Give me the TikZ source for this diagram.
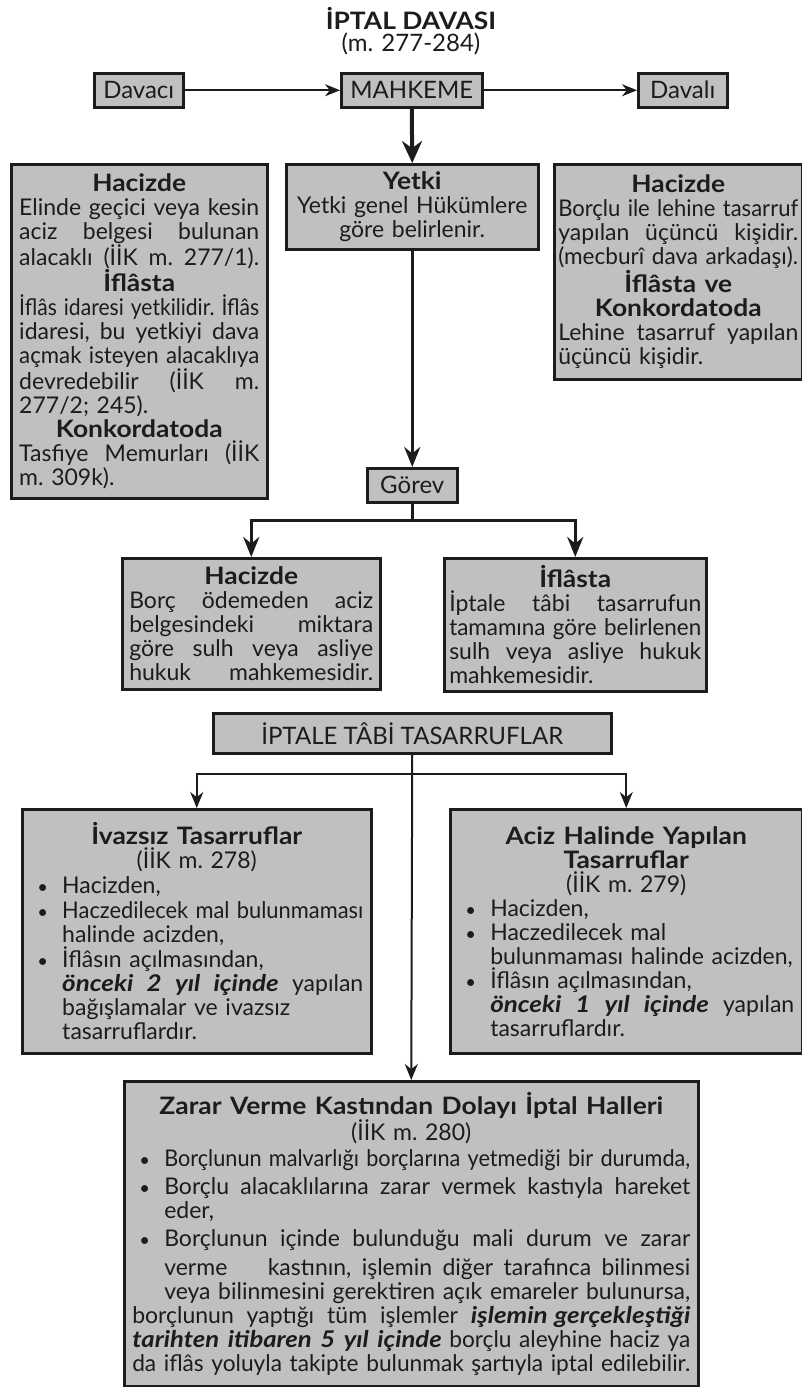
\documentclass[tikz,border=0pt]{standalone}
\usepackage{fontspec}
\usepackage{graphicx}
\setmainfont{Lato}
\usetikzlibrary{arrows.meta}

\definecolor{boxfill}{RGB}{192,192,192}
\definecolor{ink}{RGB}{28,28,28}

% line helpers: justified, ragged (shrunk only when too wide), centred, bullets
\newlength\bind \setlength\bind{32pt}
\newcommand\fitbox[2]{\sbox0{#2}\ifdim\wd0>#1\relax\resizebox{#1}{\height}{#2}\else\makebox[#1][s]{\spaceskip=\fontdimen2\font plus 1fil\relax #2}\fi}
\newcommand\fitrag[2]{\sbox0{#2}\ifdim\wd0>#1\relax\resizebox{#1}{\height}{#2}\else\usebox0\fi}
\newcommand\jl[1]{\fitbox{\hsize}{#1}}
\newcommand\rl[1]{\fitrag{\hsize}{#1}}
\newcommand\cl[1]{\makebox[\hsize]{#1}}
\newcommand\bul{\makebox[\bind][l]{\hspace{7pt}\scalebox{0.8}{\textbullet}}}
\newcommand\bjl[1]{\bul\fitbox{\dimexpr\hsize-\bind\relax}{#1}}
\newcommand\brl[1]{\bul\fitrag{\dimexpr\hsize-\bind\relax}{#1}}
\newcommand\ijl[1]{\hspace*{\bind}\fitbox{\dimexpr\hsize-\bind\relax}{#1}}
\newcommand\irl[1]{\hspace*{\bind}\fitrag{\dimexpr\hsize-\bind\relax}{#1}}
% wide bold headings and bold-italic emphasis
\newcommand\hd[1]{\scalebox{1.1}[1]{\fontsize{24}{24}\selectfont\bfseries #1}}
\newcommand\bi[1]{\scalebox{1.13}[1]{\bfseries\itshape #1}}

\begin{document}
\begin{tikzpicture}[x=1pt,y=-1pt,
  box/.style={draw=ink, line width=2.5pt, fill=boxfill, text=ink, inner sep=0pt,
    anchor=north west, font=\fontsize{23}{24}\selectfont\frenchspacing},
  labelbox/.style={box, font=\fontsize{24}{26}\selectfont},
  txtbox/.style={box, align=left},
  thinarrow/.style={draw=ink, line width=2pt, -{Stealth[length=15pt,width=12pt]}},
  thickarrow/.style={draw=ink, line width=4pt, -{Stealth[length=22pt,width=20pt]}},
  midarrow/.style={draw=ink, line width=3.2pt, -{Stealth[length=20pt,width=16pt]}},
  treeline/.style={draw=ink, line width=2pt},
  treearrow/.style={treeline, -{Stealth[length=16pt,width=13pt]}}]
\useasboundingbox (0,0) rectangle (802,1387);

% heading
\node[text=ink, font=\fontsize{24}{26}\selectfont] (title) at (411,19) {\hd{İPTAL DAVASI}};
\node[text=ink, font=\fontsize{24}{26}\selectfont] (subtitle) at (411,44) {(m. 277-284)};

% parties and the court
\node[labelbox, minimum width=89pt, minimum height=34pt] (davaci) at (93,72) {Davacı};
\node[labelbox, minimum width=141pt, minimum height=34pt] (mahkeme) at (340,72) {MAHKEME};
\node[labelbox, minimum width=89pt, minimum height=34pt] (davali) at (637,72) {Davalı};

% plaintiff
\node[txtbox, minimum width=256pt, minimum height=334pt, text width=240pt] (davacibox) at (10,163) {%
\cl{\hd{Hacizde}}\\
\jl{Elinde geçici veya kesin}\\
\jl{aciz belgesi bulunan}\\
\jl{alacaklı (İİK m. 277/1).}\\
\cl{\hd{İflâsta}}\\
\jl{İflâs idaresi yetkilidir. İflâs}\\
\jl{idaresi, bu yetkiyi dava}\\
\jl{açmak isteyen alacaklıya}\\
\jl{devredebilir (İİK m.}\\
\rl{277/2; 245).}\\
\cl{\hd{Konkordatoda}}\\
\jl{Tasfiye Memurları (İİK}\\
\rl{m. 309k).}};

% jurisdiction
\node[box, align=center, minimum width=252pt, minimum height=85pt, text width=244pt] (yetki) at (285,163) {%
\hd{Yetki}\\
Yetki genel Hükümlere\\
göre belirlenir.};

% defendant
\node[txtbox, minimum width=248pt, minimum height=215pt, text width=240pt] (davalibox) at (553,163) {%
\cl{\hd{Hacizde}}\\
\jl{Borçlu ile lehine tasarruf}\\
\jl{yapılan üçüncü kişidir.}\\
\jl{(mecburî dava arkadaşı).}\\
\cl{\hd{İflâsta ve}}\\
\cl{\hd{Konkordatoda}}\\
\jl{Lehine tasarruf yapılan}\\
\rl{üçüncü kişidir.}};

% competence
\node[labelbox, minimum width=90pt, minimum height=34pt] (gorev) at (366,467) {Görev};

\node[txtbox, minimum width=258pt, minimum height=131pt, text width=244pt] (gorevhaciz) at (121,557) {%
\cl{\hd{Hacizde}}\\
\jl{Borç ödemeden aciz}\\
\jl{belgesindeki miktara}\\
\jl{göre sulh veya asliye}\\
\jl{hukuk mahkemesidir.}};

\node[txtbox, minimum width=262pt, minimum height=133pt, text width=252pt] (goreviflas) at (443,557) {%
\cl{\hd{İflâsta}}\\
\jl{İptale tâbi tasarrufun}\\
\jl{tamamına göre belirlenen}\\
\jl{sulh veya asliye hukuk}\\
\rl{mahkemesidir.}};

% voidable transactions
\node[labelbox, minimum width=398pt, minimum height=40pt] (iptale) at (212,712) {İPTALE TÂBİ TASARRUFLAR};

\node[txtbox, minimum width=349pt, minimum height=244pt, text width=333pt] (ivazsiz) at (21,808) {%
\cl{\hd{İvazsız Tasarruflar}}\\
\cl{(İİK m. 278)}\\[1pt]
\brl{Hacizden,}\\[1pt]
\brl{Haczedilecek mal bulunmaması}\\
\irl{halinde acizden,}\\[1pt]
\brl{İflâsın açılmasından,}\\
\ijl{\bi{önceki} \bi{2} \bi{yıl} \bi{içinde} yapılan}\\
\irl{bağışlamalar ve ivazsız}\\
\irl{tasarruflardır.}};

\node[txtbox, minimum width=352pt, minimum height=244pt, text width=336pt] (aciz) at (449,808) {%
\cl{\hd{Aciz Halinde Yapılan}}\\
\cl{\hd{Tasarruflar}}\\
\cl{(İİK m. 279)}\\
\brl{Hacizden,}\\
\brl{Haczedilecek mal}\\
\irl{bulunmaması halinde acizden,}\\
\brl{İflâsın açılmasından,}\\
\ijl{\bi{önceki} \bi{1} \bi{yıl} \bi{içinde} yapılan}\\
\irl{tasarruflardır.}};

\node[txtbox, minimum width=574pt, minimum height=305pt, text width=558pt] (zarar) at (123,1080) {%
\cl{\hd{Zarar Verme Kastından Dolayı İptal Halleri}}\\
\cl{(İİK m. 280)}\\[2pt]
\brl{Borçlunun malvarlığı borçlarına yetmediği bir durumda,}\\[4pt]
\bjl{Borçlu alacaklılarına zarar vermek kastıyla hareket}\\
\irl{eder,}\\[4pt]
\bjl{Borçlunun içinde bulunduğu mali durum ve zarar}\\[5pt]
\ijl{verme\hspace{30pt} kastının, işlemin diğer tarafınca bilinmesi}\\
\ijl{veya bilinmesini gerektiren açık emareler bulunursa,}\\
\jl{borçlunun yaptığı tüm işlemler \bi{işlemin gerçekleştiği}}\\
\jl{\bi{tarihten itibaren 5 yıl içinde} borçlu aleyhine haciz ya}\\
\jl{da iflâs yoluyla takipte bulunmak şartıyla iptal edilebilir.}};

% connectors
\draw[thinarrow] (davaci.east) -- (mahkeme.west);
\draw[thinarrow] (mahkeme.east) -- (davali.west);
\draw[thickarrow] (mahkeme.south) -- (yetki.north);
\draw[midarrow] (yetki.south) -- (gorev.north);
\draw[midarrow] (gorev.south) -- ++(0,17) -| (gorevhaciz.north);
\draw[midarrow] (gorev.south) -- ++(0,17) -| (goreviflas.north);
\draw[treearrow] (iptale.south) -- ++(0,19) -| (ivazsiz.north);
\draw[treearrow] (iptale.south) -- ++(0,19) -| (aciz.north);
\draw[treearrow] (iptale.south) -- (zarar.north);
\end{tikzpicture}
\end{document}
